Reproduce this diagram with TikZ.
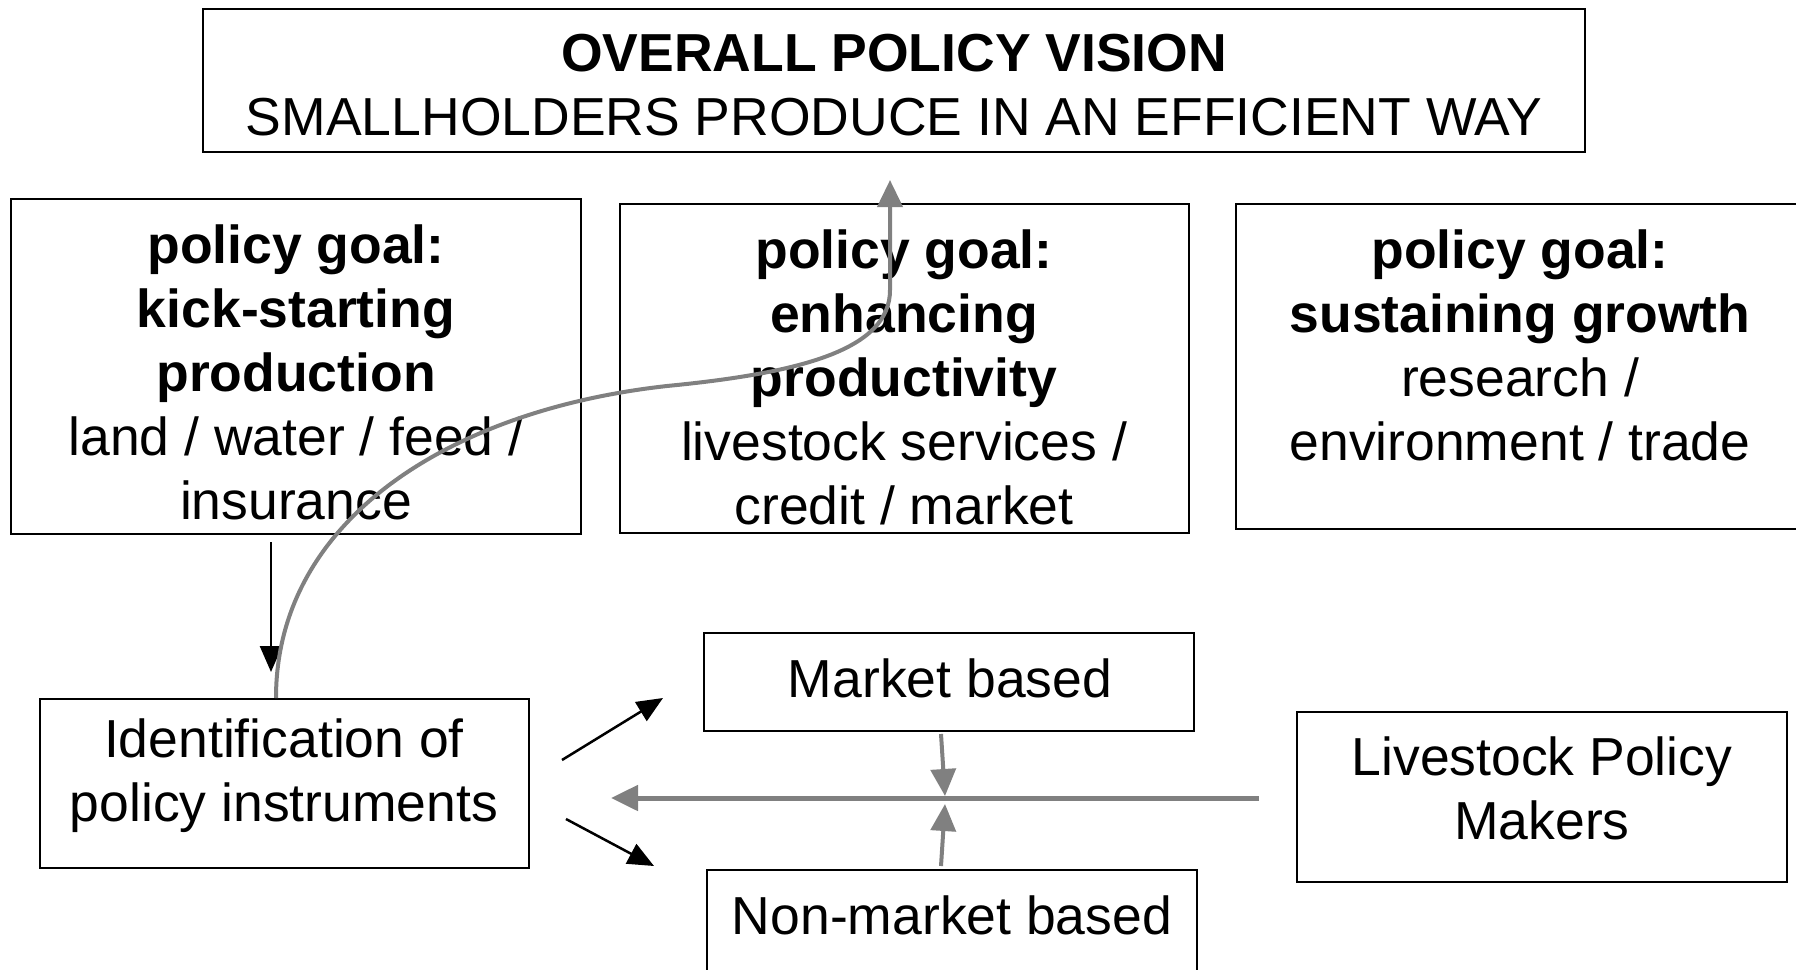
\documentclass[tikz,border=0pt]{standalone}
\usepackage{fontspec}
\setmainfont{Liberation Sans}
\usetikzlibrary{arrows.meta}
\definecolor{arrgray}{RGB}{128,128,128}
\begin{document}
\begin{tikzpicture}[x=1pt,y=-1pt,
  box/.style={draw=black, line width=2pt, inner sep=0pt},
  txt/.style={align=center, font=\fontsize{53.5}{64}\selectfont, inner sep=0pt},
  blk/.style={draw=black, line width=2.5pt, -{Triangle[length=26pt,width=22pt]}},
  gry/.style={draw=arrgray, line width=4pt, -{Triangle[length=27pt,width=25pt]}},
]
\useasboundingbox (0,0) rectangle (1796,969);
% boxes
\node[box, minimum width=1382pt, minimum height=143pt] (vision) at (894,80.5) {};
\node[box, minimum width=570pt, minimum height=335pt] (g1) at (296,366.5) {};
\node[box, minimum width=569pt, minimum height=329pt] (g2) at (904.5,368.5) {};
\node[box, minimum width=570pt, minimum height=325pt] (g3) at (1521,366.5) {};
\node[box, minimum width=489pt, minimum height=169pt] (idn) at (284.5,783.5) {};
\node[box, minimum width=490pt, minimum height=98pt] (mkt) at (949,682) {};
\node[box, minimum width=490pt, minimum height=110pt] (non) at (952,925) {};
\node[box, minimum width=490pt, minimum height=170pt] (lpm) at (1542,797) {};
% texts
\node[txt] (visiont) at (894,85) {\textbf{OVERALL POLICY VISION}\\SMALLHOLDERS PRODUCE IN AN EFFICIENT WAY};
\node[txt] (g1t) at (296,372) {\textbf{policy goal:}\\\textbf{kick-starting}\\\textbf{production}\\land / water / feed /\\insurance};
\node[txt] (g2t) at (904,377) {\textbf{policy goal:}\\\textbf{enhancing}\\\textbf{productivity}\\livestock services /\\credit / market};
\node[txt] (g3t) at (1520,345) {\textbf{policy goal:}\\\textbf{sustaining growth}\\research /\\environment / trade};
\node[txt] (idnt) at (284,776) {Identification of\\policy instruments};
\node[txt] (mktt) at (950,678) {Market based};
\node[txt] (nont) at (952,915) {Non-market based};
\node[txt] (lpmt) at (1542,788) {Livestock Policy\\Makers};
% connectors
\draw[blk] ([shift={(-25,7)}]g1.south) -- ([shift={(-13.5,-26)}]idn.north);
\draw[blk] ([shift={(32,-23.5)}]idn.east) -- ([shift={(-40,16)}]mkt.west);
\draw[blk] ([shift={(36,35.5)}]idn.east) -- ([shift={(-52,-59)}]non.west);
\draw[gry, line width=5pt] ([shift={(-37,1)}]lpm.west) -- ([shift={(81,14.5)}]idn.east);
\draw[gry] ([shift={(-8,2)}]mkt.south) -- ([shift={(-4,64)}]mkt.south);
\draw[gry] ([shift={(-11,-3)}]non.north) -- ([shift={(-7,-65)}]non.north);
\draw[gry] ([shift={(-8.5,0)}]idn.north) .. controls (276,520) and (450,410) .. (667,386)
  .. controls (800,373) and (890,350) .. (890,290) -- ([shift={(-4,27)}]vision.south);
\end{tikzpicture}
\end{document}
